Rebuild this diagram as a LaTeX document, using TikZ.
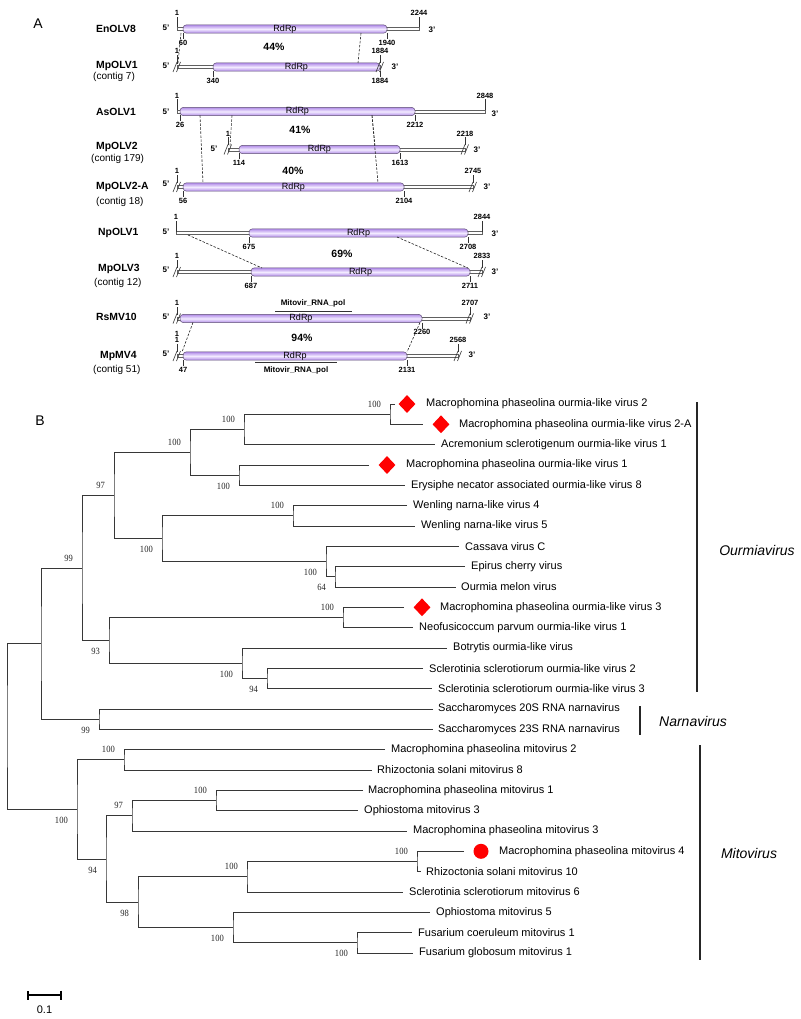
\documentclass[tikz,border=0pt]{standalone}
\usepackage{fontspec}
\setmainfont{Liberation Sans}
\newfontfamily\bootfont[FakeStretch=0.9]{Liberation Serif}
\usepackage{xcolor}
\usepackage{tikz}
\usetikzlibrary{shapes.geometric,positioning,arrows.meta}

\definecolor{rdrpdark}{RGB}{176,138,232}
\definecolor{rdrplight}{RGB}{242,234,255}
\definecolor{boxline}{RGB}{95,80,115}
\definecolor{treeline}{RGB}{55,55,55}

\tikzset{
  panel/.style={inner sep=0pt, font=\fontsize{14}{16}\selectfont},
  virus/.style={anchor=west, inner sep=0pt, font=\bfseries\fontsize{10.4}{11}\selectfont},
  contig/.style={anchor=west, inner sep=0pt, font=\fontsize{10}{11}\selectfont},
  endlbl/.style={inner sep=0pt, font=\bfseries\fontsize{8}{9}\selectfont},
  numup/.style={anchor=south, inner sep=1pt, font=\bfseries\fontsize{7.5}{8}\selectfont},
  numdown/.style={anchor=north, inner sep=1pt, font=\bfseries\fontsize{7.5}{8}\selectfont},
  ident/.style={inner sep=0pt, font=\bfseries\fontsize{10.5}{11}\selectfont},
  domlbl/.style={inner sep=0pt, font=\bfseries\fontsize{8}{9}\selectfont},
  genome/.style={draw=gray!75!black, fill=white, line width=0.5pt},
  rdrp/.style={draw=boxline, line width=0.5pt, rounded corners=3.5pt,
    top color=rdrpdark, bottom color=rdrpdark, middle color=rdrplight,
    minimum height=8pt, inner sep=0pt, font=\fontsize{9}{10}\selectfont},
  tick/.style={draw=black!80, line width=0.5pt},
  aln/.style={draw=black!85, dash pattern=on 2.5pt off 1.5pt, line width=0.6pt},
  brk/.pic={
    \draw[line width=0.6pt, black!80] (-4,5) -- (0,-5);
    \draw[line width=0.6pt, black!80] (-0.5,5) -- (3.5,-5);
  },
  taxon/.style={anchor=west, inner sep=0pt, font=\fontsize{11}{12}\selectfont},
  branch/.style={draw=treeline, line width=0.9pt},
  boot/.style={anchor=east, inner sep=0pt, xshift=-9pt, black!85,
    font=\bootfont\fontsize{9.5}{10}\selectfont},
  bup/.style={boot, yshift=10pt},
  bdn/.style={boot, yshift=-11pt},
  mpdiam/.style={diamond, fill=red, inner sep=0pt, minimum width=17pt, minimum height=18pt},
  mpdot/.style={circle, fill=red, inner sep=0pt, minimum size=15pt},
  cladebar/.style={draw=black!85, line width=2pt},
  cladename/.style={inner sep=0pt, font=\itshape\fontsize{14}{16}\selectfont},
}

\begin{document}
\begin{tikzpicture}[x=1pt, y=-1pt]
  \useasboundingbox (0,0) rectangle (800,1019);

  % ---------------- Panel A: genome maps ----------------
  \node[panel] (labA) at (38,24) {A};

  % EnOLV8
  \begin{scope}[shift={(0,29)}]
    \node[virus] (en8) at (96,0) {EnOLV8};
    \node[endlbl] (en8five) at (166,-1) {5'};
    \draw[genome] (177,-1.5) rectangle (419,1.5);
    \node[rdrp, minimum width=204pt] (en8rdrp) at (285,0) {RdRp};
    \draw[tick] (177,-1.5) -- (177,-12) node[numup] (en8s) {1};
    \draw[tick] (419,-1.5) -- (419,-12) node[numup] (en8e) {2244};
    \draw[tick] (183,4) -- (183,10) node[numdown] (en8r1) {60};
    \draw[tick] (387,4) -- (387,10) node[numdown] (en8r2) {1940};
    \node[endlbl] (en8three) at (432,1) {3'};
    \coordinate (en8a) at (181,4);
    \coordinate (en8b) at (361,4);
  \end{scope}

  % MpOLV1 (contig 7)
  \begin{scope}[shift={(0,67)}]
    \node[virus] (mp1) at (96,-1) {MpOLV1};
    \node[contig] (mp1c) at (93,10) {(contig 7)};
    \node[endlbl] (mp1five) at (166,-1) {5'};
    \draw[genome] (177,-1.5) rectangle (380,1.5);
    \node[rdrp, minimum width=167pt] (mp1rdrp) at (296.5,0) {RdRp};
    \pic at (177,0) {brk};
    \pic at (380,0) {brk};
    \draw[tick] (177,-3) -- (177,-12) node[numup] (mp1s) {1};
    \draw[tick] (380,-4) -- (380,-12) node[numup] (mp1e) {1884};
    \draw[tick] (213,4) -- (213,10) node[numdown] (mp1r1) {340};
    \draw[tick] (380,4) -- (380,10) node[numdown] (mp1r2) {1884};
    \node[endlbl] (mp1three) at (395,0) {3'};
    \coordinate (mp1a) at (178,-4);
    \coordinate (mp1b) at (358,-4);
  \end{scope}

  % AsOLV1
  \begin{scope}[shift={(0,111.5)}]
    \node[virus] (as1) at (96,0) {AsOLV1};
    \node[endlbl] (as1five) at (166,0) {5'};
    \draw[genome] (177,-1.5) rectangle (485,1.5);
    \node[rdrp, minimum width=235pt] (as1rdrp) at (297.5,0) {RdRp};
    \draw[tick] (177,-1.5) -- (177,-12) node[numup] (as1s) {1};
    \draw[tick] (485,-1.5) -- (485,-12) node[numup] (as1e) {2848};
    \draw[tick] (180,4) -- (180,10) node[numdown] (as1r1) {26};
    \draw[tick] (415,4) -- (415,10) node[numdown] (as1r2) {2212};
    \node[endlbl] (as1three) at (495,2) {3'};
    \coordinate (as1a) at (200,4);
    \coordinate (as1b) at (232,4);
    \coordinate (as1c) at (372,4);
  \end{scope}

  % MpOLV2 (contig 179)
  \begin{scope}[shift={(0,149.5)}]
    \node[virus] (mp2) at (96,-3) {MpOLV2};
    \node[contig] (mp2c) at (91,9) {(contig 179)};
    \node[endlbl] (mp2five) at (214,-1) {5'};
    \draw[genome] (228,-1.5) rectangle (465,1.5);
    \node[rdrp, minimum width=161pt] (mp2rdrp) at (319.5,0) {RdRp};
    \pic at (228,0) {brk};
    \pic at (465,0) {brk};
    \draw[tick] (228,-4) -- (228,-12) node[numup] (mp2s) {1};
    \draw[tick] (465,-4) -- (465,-12) node[numup] (mp2e) {2218};
    \draw[tick] (239,4) -- (239,10) node[numdown] (mp2r1) {114};
    \draw[tick] (400,4) -- (400,10) node[numdown] (mp2r2) {1613};
    \node[endlbl] (mp2three) at (477,0) {3'};
    \coordinate (mp2b) at (230,-4);
    \coordinate (mp2c2) at (375,-4);
  \end{scope}

  % MpOLV2-A (contig 18)
  \begin{scope}[shift={(0,187)}]
    \node[virus] (mp2A) at (96,0) {MpOLV2-A};
    \node[contig] (mp2Ac) at (96,15) {(contig 18)};
    \node[endlbl] (mp2Afive) at (166,-3) {5'};
    \draw[genome] (177,-1.5) rectangle (473,1.5);
    \node[rdrp, minimum width=221pt] (mp2Ardrp) at (293.5,0) {RdRp};
    \pic at (177,0) {brk};
    \pic at (473,0) {brk};
    \draw[tick] (177,-4) -- (177,-12) node[numup] (mp2As) {1};
    \draw[tick] (473,-4) -- (473,-12) node[numup] (mp2Ae) {2745};
    \draw[tick] (183,4) -- (183,10) node[numdown] (mp2Ar1) {56};
    \draw[tick] (404,4) -- (404,10) node[numdown] (mp2Ar2) {2104};
    \node[endlbl] (mp2Athree) at (487,0) {3'};
    \coordinate (mp2Aa) at (203,-4);
    \coordinate (mp2Ac2) at (378,-4);
  \end{scope}

  % NpOLV1
  \begin{scope}[shift={(0,233)}]
    \node[virus] (np1) at (98,0) {NpOLV1};
    \node[endlbl] (np1five) at (166,-1) {5'};
    \draw[genome] (176,-1.5) rectangle (482,1.5);
    \node[rdrp, minimum width=219pt] (np1rdrp) at (358.5,0) {RdRp};
    \draw[tick] (176,-1.5) -- (176,-12) node[numup] (np1s) {1};
    \draw[tick] (482,-1.5) -- (482,-12) node[numup] (np1e) {2844};
    \draw[tick] (249,4) -- (249,10) node[numdown] (np1r1) {675};
    \draw[tick] (468,4) -- (468,10) node[numdown] (np1r2) {2708};
    \node[endlbl] (np1three) at (495,1) {3'};
    \coordinate (np1a) at (188,2);
    \coordinate (np1b) at (397,4);
  \end{scope}

  % MpOLV3 (contig 12)
  \begin{scope}[shift={(0,272)}]
    \node[virus] (mp3) at (98,-3) {MpOLV3};
    \node[contig] (mp3c) at (94,11) {(contig 12)};
    \node[endlbl] (mp3five) at (166,-2) {5'};
    \draw[genome] (177,-1.5) rectangle (482,1.5);
    \node[rdrp, minimum width=219pt] (mp3rdrp) at (360.5,0) {RdRp};
    \pic at (177,0) {brk};
    \pic at (482,0) {brk};
    \draw[tick] (177,-4) -- (177,-12) node[numup] (mp3s) {1};
    \draw[tick] (482,-4) -- (482,-12) node[numup] (mp3e) {2833};
    \draw[tick] (251,4) -- (251,10) node[numdown] (mp3r1) {687};
    \draw[tick] (470,4) -- (470,10) node[numdown] (mp3r2) {2711};
    \node[endlbl] (mp3three) at (495,0) {3'};
    \coordinate (mp3a) at (262,-4);
    \coordinate (mp3b) at (468,-4);
  \end{scope}

  % RsMV10
  \begin{scope}[shift={(0,318.5)}]
    \node[virus] (rs10) at (96,-2) {RsMV10};
    \node[endlbl] (rs10five) at (166,-2) {5'};
    \draw[genome] (177,-1.5) rectangle (470,1.5);
    \node[rdrp, minimum width=242pt] (rs10rdrp) at (301,0) {RdRp};
    \pic at (177,0) {brk};
    \pic at (470,0) {brk};
    \draw[tick] (177,-4) -- (177,-12) node[numup] (rs10s) {1};
    \draw[tick] (470,-4) -- (470,-12) node[numup] (rs10e) {2707};
    \draw[tick] (422,4) -- (422,10) node[numdown] (rs10r2) {2260};
    \node[endlbl] (rs10three) at (487,-2) {3'};
    \node[domlbl] (rs10dom) at (313,-15) {Mitovir\_RNA\_pol};
    \draw[tick, line width=0.8pt] (275,-7.5) -- (352,-7.5);
    \coordinate (rs10a) at (193,4);
    \coordinate (rs10b) at (420,4);
  \end{scope}

  % MpMV4 (contig 51)
  \begin{scope}[shift={(0,356)}]
    \node[virus] (mp4) at (100,0) {MpMV4};
    \node[contig] (mp4c) at (93,14) {(contig 51)};
    \node[endlbl] (mp4five) at (166,-2) {5'};
    \draw[genome] (177,-1.5) rectangle (458,1.5);
    \node[rdrp, minimum width=224pt] (mp4rdrp) at (295,0) {RdRp};
    \pic at (177,0) {brk};
    \pic at (458,0) {brk};
    \draw[tick] (177,-4) -- (177,-12) node[numup] (mp4s) {1};
    \node[numup] (mp4s2) at (177,-18) {1};
    \draw[tick] (458,-4) -- (458,-12) node[numup] (mp4e) {2568};
    \draw[tick] (183,4) -- (183,10) node[numdown] (mp4r1) {47};
    \draw[tick] (407,4) -- (407,10) node[numdown] (mp4r2) {2131};
    \node[endlbl] (mp4three) at (472,-1) {3'};
    \draw[tick, line width=0.8pt] (255,6.5) -- (337,6.5);
    \node[domlbl] (mp4dom) at (296,14) {Mitovir\_RNA\_pol};
    \coordinate (mp4a) at (182,-4);
    \coordinate (mp4b) at (407,-4);
  \end{scope}

  % identities
  \node[ident] (id1) at (274,47) {44\%};
  \node[ident] (id2) at (300,130) {41\%};
  \node[ident] (id3) at (293,171) {40\%};
  \node[ident] (id4) at (342,254) {69\%};
  \node[ident] (id5) at (302,338) {94\%};

  % aligned regions
  \draw[aln] (en8a) -- (mp1a);
  \draw[aln] (en8b) -- (mp1b);
  \draw[aln] (as1a) -- (mp2Aa);
  \draw[aln] (as1b) -- (mp2b);
  \draw[aln] (as1c) -- (mp2c2);
  \draw[aln] (as1c) -- (mp2Ac2);
  \draw[aln] (np1a) -- (mp3a);
  \draw[aln] (np1b) -- (mp3b);
  \draw[aln] (rs10a) -- (mp4a);
  \draw[aln] (rs10b) -- (mp4b);

  % ---------------- Panel B: phylogeny ----------------
  \node[panel] (labB) at (40,421) {B};

  % tips: branch ends and names
  \coordinate (e1) at (395,404.0);  \node[taxon] (t1) at (426,404.0) {Macrophomina phaseolina ourmia-like virus 2};
  \coordinate (e2) at (423,424.3);  \node[taxon] (t2) at (459,424.3) {Macrophomina phaseolina ourmia-like virus 2-A};
  \coordinate (e3) at (435,444.7);  \node[taxon] (t3) at (441,444.7) {Acremonium sclerotigenum ourmia-like virus 1};
  \coordinate (e4) at (369,465.0);  \node[taxon] (t4) at (406,465.0) {Macrophomina phaseolina ourmia-like virus 1};
  \coordinate (e5) at (405,485.3);  \node[taxon] (t5) at (411,485.3) {Erysiphe necator associated ourmia-like virus 8};
  \coordinate (e6) at (407,505.7);  \node[taxon] (t6) at (413,505.7) {Wenling narna-like virus 4};
  \coordinate (e7) at (415,526.0);  \node[taxon] (t7) at (421,526.0) {Wenling narna-like virus 5};
  \coordinate (e8) at (459,546.3);  \node[taxon] (t8) at (465,546.3) {Cassava virus C};
  \coordinate (e9) at (465,566.7);  \node[taxon] (t9) at (471,566.7) {Epirus cherry virus};
  \coordinate (e10) at (456,587.0); \node[taxon] (t10) at (461,587.0) {Ourmia melon virus};
  \coordinate (e11) at (404,607.3); \node[taxon] (t11) at (440,607.3) {Macrophomina phaseolina ourmia-like virus 3};
  \coordinate (e12) at (413,627.7); \node[taxon] (t12) at (419,627.7) {Neofusicoccum parvum ourmia-like virus 1};
  \coordinate (e13) at (447,648.0); \node[taxon] (t13) at (453,648.0) {Botrytis ourmia-like virus};
  \coordinate (e14) at (423,668.3); \node[taxon] (t14) at (429,668.3) {Sclerotinia sclerotiorum ourmia-like virus 2};
  \coordinate (e15) at (432,688.7); \node[taxon] (t15) at (438,688.7) {Sclerotinia sclerotiorum ourmia-like virus 3};
  \coordinate (e16) at (433,709.0); \node[taxon] (t16) at (438,709.0) {Saccharomyces 20S RNA narnavirus};
  \coordinate (e17) at (433,729.3); \node[taxon] (t17) at (438,729.3) {Saccharomyces 23S RNA narnavirus};
  \coordinate (e18) at (385,749.7); \node[taxon] (t18) at (391,749.7) {Macrophomina phaseolina mitovirus 2};
  \coordinate (e19) at (372,770.0); \node[taxon] (t19) at (377,770.0) {Rhizoctonia solani mitovirus 8};
  \coordinate (e20) at (363,790.3); \node[taxon] (t20) at (368,790.3) {Macrophomina phaseolina mitovirus 1};
  \coordinate (e21) at (358,810.7); \node[taxon] (t21) at (364,810.7) {Ophiostoma mitovirus 3};
  \coordinate (e22) at (407,831.0); \node[taxon] (t22) at (413,831.0) {Macrophomina phaseolina mitovirus 3};
  \coordinate (e23) at (464,851.3); \node[taxon] (t23) at (499,851.3) {Macrophomina phaseolina mitovirus 4};
  \coordinate (e24) at (421,871.7); \node[taxon] (t24) at (426,871.7) {Rhizoctonia solani mitovirus 10};
  \coordinate (e25) at (403,892.0); \node[taxon] (t25) at (409,892.0) {Sclerotinia sclerotiorum mitovirus 6};
  \coordinate (e26) at (430,912.3); \node[taxon] (t26) at (436,912.3) {Ophiostoma mitovirus 5};
  \coordinate (e27) at (412,932.7); \node[taxon] (t27) at (418,932.7) {Fusarium coeruleum mitovirus 1};
  \coordinate (e28) at (413,953.0); \node[taxon] (t28) at (419,953.0) {Fusarium globosum mitovirus 1};

  % viruses from this study
  \node[mpdiam] (d1) at (407,404.0) {};
  \node[mpdiam] (d2) at (441,424.3) {};
  \node[mpdiam] (d4) at (387,465.0) {};
  \node[mpdiam] (d11) at (422,607.3) {};
  \node[mpdot] (d23) at (481,851.3) {};

  % branch points
  \coordinate (mp2pair) at (390,414.2);
  \coordinate (acr) at (244,429.4);
  \coordinate (mp1pair) at (239,475.2);
  \coordinate (grpA) at (190,452.3);
  \coordinate (wenling) at (293,515.8);
  \coordinate (epirus) at (335,576.8);
  \coordinate (cassava) at (326,561.6);
  \coordinate (grpB) at (162,538.7);
  \coordinate (grpAB) at (114,495.5);
  \coordinate (mp3pair) at (343,617.5);
  \coordinate (sclero) at (267,678.5);
  \coordinate (botry) at (242,663.3);
  \coordinate (grpC) at (109,640.4);
  \coordinate (ourmia) at (82,568.0);
  \coordinate (narna) at (99,719.2);
  \coordinate (ournar) at (41,643.6);
  \coordinate (mito2) at (124,759.8);
  \coordinate (mito1) at (216,800.5);
  \coordinate (mito13) at (132,815.8);
  \coordinate (mito4) at (417,861.5);
  \coordinate (mito46) at (247,876.8);
  \coordinate (fusar) at (357,942.8);
  \coordinate (oph5) at (233,927.6);
  \coordinate (mitoD) at (138,902.2);
  \coordinate (mitoC) at (106,859.0);
  \coordinate (mito) at (77,809.4);
  \coordinate (root) at (7,726.5);

  % clades
  \draw[branch] (e1) -| (mp2pair) |- (e2);
  \draw[branch] (mp2pair) -| (acr) |- (e3);
  \draw[branch] (e4) -| (mp1pair) |- (e5);
  \draw[branch] (acr) -| (grpA) |- (mp1pair);
  \draw[branch] (e6) -| (wenling) |- (e7);
  \draw[branch] (e9) -| (epirus) |- (e10);
  \draw[branch] (e8) -| (cassava) |- (epirus);
  \draw[branch] (wenling) -| (grpB) |- (cassava);
  \draw[branch] (grpA) -| (grpAB) |- (grpB);
  \draw[branch] (e11) -| (mp3pair) |- (e12);
  \draw[branch] (e14) -| (sclero) |- (e15);
  \draw[branch] (e13) -| (botry) |- (sclero);
  \draw[branch] (mp3pair) -| (grpC) |- (botry);
  \draw[branch] (grpAB) -| (ourmia) |- (grpC);
  \draw[branch] (e16) -| (narna) |- (e17);
  \draw[branch] (ourmia) -| (ournar) |- (narna);
  \draw[branch] (e18) -| (mito2) |- (e19);
  \draw[branch] (e20) -| (mito1) |- (e21);
  \draw[branch] (mito1) -| (mito13) |- (e22);
  \draw[branch] (e23) -| (mito4) |- (e24);
  \draw[branch] (mito4) -| (mito46) |- (e25);
  \draw[branch] (e27) -| (fusar) |- (e28);
  \draw[branch] (e26) -| (oph5) |- (fusar);
  \draw[branch] (mito46) -| (mitoD) |- (oph5);
  \draw[branch] (mito13) -| (mitoC) |- (mitoD);
  \draw[branch] (mito2) -| (mito) |- (mitoC);
  \draw[branch] (ournar) -| (root) |- (mito);

  % bootstrap values
  \node[bup] (bs1) at (mp2pair) {100};
  \node[bup] (bs2) at (acr) {100};
  \node[bdn] (bs3) at (mp1pair) {100};
  \node[bup] (bs4) at (grpA) {100};
  \node[bup] (bs5) at (wenling) {100};
  \node[bdn] (bs6) at (cassava) {100};
  \node[bdn] (bs7) at (epirus) {64};
  \node[bdn] (bs8) at (grpB) {100};
  \node[bup] (bs9) at (grpAB) {97};
  \node[bup] (bs10) at (mp3pair) {100};
  \node[bdn] (bs11) at (botry) {100};
  \node[bdn] (bs12) at (sclero) {94};
  \node[bdn] (bs13) at (grpC) {93};
  \node[bup] (bs14) at (ourmia) {99};
  \node[bdn] (bs15) at (narna) {99};
  \node[bdn] (bs16) at (mito) {100};
  \node[bup] (bs17) at (mito2) {100};
  \node[bdn] (bs18) at (mitoC) {94};
  \node[bup] (bs19) at (mito13) {97};
  \node[bup] (bs20) at (mito1) {100};
  \node[bdn] (bs21) at (mitoD) {98};
  \node[bup] (bs22) at (mito46) {100};
  \node[bup] (bs23) at (mito4) {100};
  \node[bdn] (bs24) at (oph5) {100};
  \node[bdn] (bs25) at (fusar) {100};

  % genera
  \draw[cladebar] (697,402) -- (697,692);
  \node[cladename] (gOur) at (757,550) {Ourmiavirus};
  \draw[cladebar, line width=1.5pt] (640,706) -- (640,735);
  \node[cladename] (gNar) at (693,721) {Narnavirus};
  \draw[cladebar] (700,745) -- (700,960);
  \node[cladename] (gMit) at (749,853) {Mitovirus};

  % scale bar
  \draw[line width=1.8pt, {Bar[width=9pt]}-{Bar[width=9pt]}] (27,995) -- (62,995);
  \node[inner sep=0pt, font=\fontsize{11}{12}\selectfont] (scale) at (44.5,1010) {0.1};
\end{tikzpicture}
\end{document}
